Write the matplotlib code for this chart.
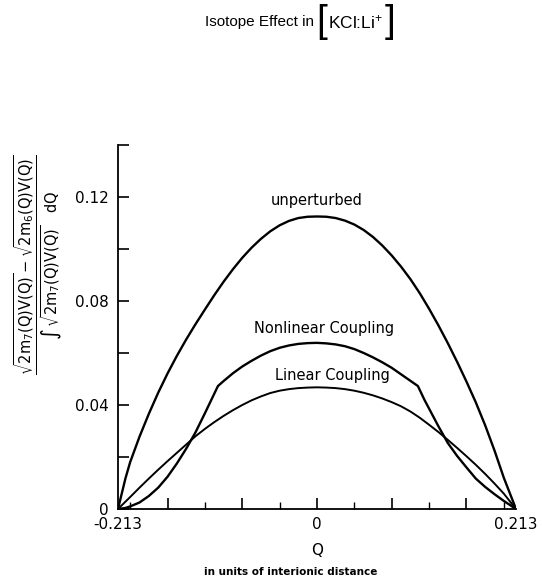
import matplotlib
matplotlib.use("Agg")
import matplotlib.pyplot as plt
from matplotlib import font_manager
from matplotlib.offsetbox import TextArea, HPacker, AnchoredOffsetbox

plt.rcParams['font.family'] = ['DejaVu Sans']
plt.rcParams['mathtext.default'] = 'regular'
plt.rcParams['mathtext.fontset'] = 'dejavusans'

_names = {f.name for f in font_manager.fontManager.ttflist}
NARROW = 'Liberation Sans Narrow' if 'Liberation Sans Narrow' in _names else (
    'Liberation Sans' if 'Liberation Sans' in _names else 'DejaVu Sans')

# ---- data ----
q_unpert = [-0.213, -0.205, -0.20, -0.19, -0.18, -0.17, -0.16, -0.15, -0.14, -0.13,
            -0.12, -0.11, -0.10, -0.09, -0.08, -0.07, -0.06, -0.05, -0.04, -0.03,
            -0.02, -0.01, 0.0, 0.01, 0.02, 0.03, 0.04, 0.05, 0.06, 0.07, 0.08, 0.09,
            0.10, 0.11, 0.12, 0.13, 0.14, 0.15, 0.16, 0.17, 0.18, 0.19, 0.20, 0.213]
y_unpert = [0.0, 0.0118, 0.0180, 0.0278, 0.0366, 0.0447, 0.0521, 0.0589, 0.0652, 0.0711,
            0.0767, 0.0822, 0.0874, 0.0922, 0.0966, 0.1005, 0.1039, 0.1068, 0.1091, 0.1108,
            0.1119, 0.1124, 0.1125, 0.1124, 0.1119, 0.1109, 0.1094, 0.1073, 0.1046, 0.1013,
            0.0975, 0.0932, 0.0884, 0.0830, 0.0770, 0.0706, 0.0638, 0.0566, 0.0490, 0.0410,
            0.0322, 0.0225, 0.0120, 0.0]

q_linear = [-0.213, -0.20, -0.19, -0.18, -0.17, -0.16, -0.15, -0.14, -0.13, -0.12,
            -0.11, -0.10, -0.09, -0.08, -0.07, -0.06, -0.05, -0.04, -0.03, -0.02,
            -0.01, 0.0, 0.01, 0.02, 0.03, 0.04, 0.05, 0.06, 0.07, 0.08, 0.09, 0.10,
            0.11, 0.12, 0.13, 0.14, 0.15, 0.16, 0.17, 0.18, 0.19, 0.20, 0.213]
y_linear = [0.0, 0.0046, 0.0082, 0.0117, 0.0151, 0.0184, 0.0216, 0.0248, 0.0280, 0.0308,
            0.0334, 0.0358, 0.0380, 0.0400, 0.0418, 0.0433, 0.0446, 0.0455, 0.0461, 0.0465,
            0.0467, 0.0468, 0.0467, 0.0465, 0.0461, 0.0455, 0.0447, 0.0437, 0.0425, 0.0411,
            0.0395, 0.0375, 0.0351, 0.0324, 0.0296, 0.0266, 0.0235, 0.0203, 0.0170, 0.0135,
            0.0098, 0.0059, 0.0]

q_nonlin = [-0.213, -0.205, -0.20, -0.19, -0.18, -0.17, -0.16, -0.15, -0.14, -0.13,
            -0.12, -0.11, -0.106, -0.10, -0.09, -0.08, -0.07, -0.06, -0.05, -0.04,
            -0.03, -0.02, -0.01, 0.0, 0.01, 0.02, 0.03, 0.04, 0.05, 0.06, 0.07, 0.08,
            0.09, 0.10, 0.108, 0.115, 0.12, 0.13, 0.14, 0.15, 0.16, 0.17, 0.18, 0.19,
            0.20, 0.213]
y_nonlin = [0.0, 0.0004, 0.0010, 0.0025, 0.0050, 0.0082, 0.0124, 0.0175, 0.0232, 0.0295,
            0.0368, 0.0443, 0.0473, 0.0492, 0.0522, 0.0548, 0.0570, 0.0590, 0.0607, 0.0620,
            0.0629, 0.0635, 0.0638, 0.0639, 0.0637, 0.0633, 0.0626, 0.0615, 0.0600, 0.0583,
            0.0564, 0.0543, 0.0518, 0.0493, 0.0473, 0.0420, 0.0386, 0.0318, 0.0254, 0.0204,
            0.0160, 0.0117, 0.0085, 0.0057, 0.0031, 0.0]

x_major = [-0.213, -0.16, -0.08, 0.0, 0.08, 0.16, 0.213]
x_major_labels = ['-0.213', '', '', '0', '', '', '0.213']
x_minor = [-0.2, -0.12, -0.04, 0.04, 0.12, 0.2]
y_major = [0.0, 0.04, 0.08, 0.12]
y_major_labels = ['0', '0.04', '0.08', '0.12']
y_minor = [0.02, 0.06, 0.10, 0.14]

curve_labels = ['unperturbed', 'Nonlinear Coupling', 'Linear Coupling']

fig = plt.figure(figsize=(5.42, 5.76), dpi=100)
ax = fig.add_axes([0.2177, 0.1163, 0.7343, 0.6320])

ax.plot(q_unpert, y_unpert, color='black', lw=1.7, solid_joinstyle='round')
ax.plot(q_nonlin, y_nonlin, color='black', lw=1.7, solid_joinstyle='round')
ax.plot(q_linear, y_linear, color='black', lw=1.4, solid_joinstyle='round')

ax.set_xlim(-0.213, 0.213)
ax.set_ylim(0, 0.14)
for s in ['top', 'right']:
    ax.spines[s].set_visible(False)
for s in ['left', 'bottom']:
    ax.spines[s].set_linewidth(1.3)

ax.set_xticks(x_major)
ax.set_xticklabels(x_major_labels)
ax.set_xticks(x_minor, minor=True)
ax.set_yticks(y_major)
ax.set_yticklabels(y_major_labels)
ax.set_yticks(y_minor, minor=True)
ax.tick_params(axis='x', which='major', direction='in', length=8, width=1.2,
               labelsize=11, pad=6)
ax.tick_params(axis='x', which='minor', direction='in', length=5, width=1.0)
ax.tick_params(axis='y', which='both', direction='in', length=8, width=1.2,
               labelsize=11, pad=7)
for t in ax.xaxis.get_major_ticks():
    if abs(abs(t.get_loc()) - 0.213) < 1e-6:
        t.tick1line.set_visible(False)

ax.text(0.0, 0.1185, curve_labels[0], ha='center', va='center', fontsize=10.5)
ax.text(0.0078, 0.0693, curve_labels[1], ha='center', va='center', fontsize=10.5)
ax.text(0.0164, 0.0512, curve_labels[2], ha='center', va='center', fontsize=10.5)

ax.set_xlabel('Q', fontsize=11, labelpad=8)
fig.text(0.536, 0.0078, 'in units of interionic distance', ha='center', va='center',
         fontsize=7.5, fontweight='bold')

ylab = (r'$\frac{\sqrt{2m_7(Q)V(Q)}-\sqrt{2m_6(Q)V(Q)}}'
        r'{\int\,\sqrt{2m_7(Q)V(Q)}\quad dQ}$')
fig.text(0.07, 0.54, ylab, rotation=90, ha='center', va='center', fontsize=15)

# title
tprops = dict(fontsize=11, family=NARROW, color='black')
parts = [
    TextArea('Isotope Effect in', textprops=tprops),
    TextArea('[', textprops=dict(fontsize=28, family=NARROW, fontweight='light')),
    TextArea(r'KCl:Li$^{+}$', textprops=dict(fontsize=12.5, family=NARROW)),
    TextArea(']', textprops=dict(fontsize=28, family=NARROW, fontweight='light')),
]
box = HPacker(children=parts, align='center', pad=0, sep=1)
anch = AnchoredOffsetbox(loc='center', child=box, frameon=False, pad=0,
                         bbox_to_anchor=(0.554, 0.962), bbox_transform=fig.transFigure,
                         borderpad=0)
fig.add_artist(anch)

fig.savefig('out.png', dpi=100)
